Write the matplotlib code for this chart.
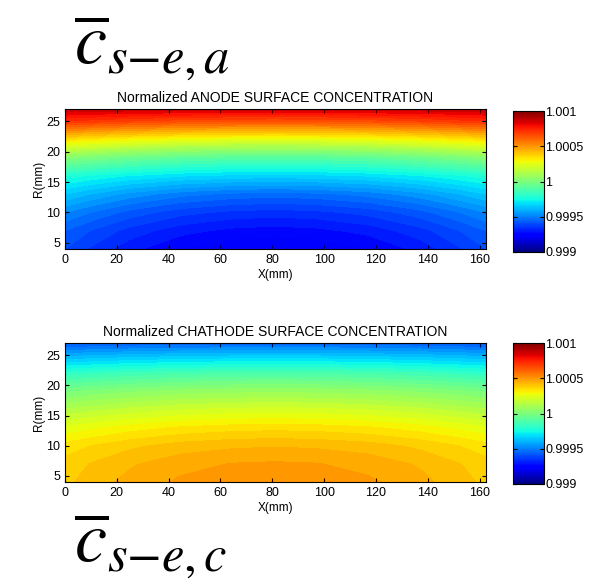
import numpy as np
import matplotlib
matplotlib.use('Agg')
import matplotlib.pyplot as plt
from matplotlib.cm import ScalarMappable
from matplotlib.colors import Normalize
from matplotlib.ticker import FixedLocator, FuncFormatter

# grid (mm)
x_mm = [0, 10, 25, 45, 65, 81, 97, 117, 137, 152, 162.5]
r_mm = [4, 7, 10, 13, 16, 19, 22, 25, 27]

# normalized anode surface concentration, one row per r_mm
anode = [
    [0.999400, 0.999354, 0.999294, 0.999238, 0.999208, 0.999200, 0.999208, 0.999238, 0.999294, 0.999354, 0.999400],
    [0.999440, 0.999398, 0.999344, 0.999294, 0.999268, 0.999260, 0.999268, 0.999294, 0.999344, 0.999398, 0.999440],
    [0.999520, 0.999478, 0.999424, 0.999374, 0.999348, 0.999340, 0.999348, 0.999374, 0.999424, 0.999478, 0.999520],
    [0.999640, 0.999598, 0.999544, 0.999494, 0.999468, 0.999460, 0.999468, 0.999494, 0.999544, 0.999598, 0.999640],
    [0.999780, 0.999752, 0.999716, 0.999682, 0.999664, 0.999660, 0.999664, 0.999682, 0.999716, 0.999752, 0.999780],
    [1.000020, 0.999992, 0.999956, 0.999922, 0.999904, 0.999900, 0.999904, 0.999922, 0.999956, 0.999992, 1.000020],
    [1.000340, 1.000318, 1.000288, 1.000260, 1.000244, 1.000240, 1.000244, 1.000260, 1.000288, 1.000318, 1.000340],
    [1.000720, 1.000702, 1.000678, 1.000656, 1.000644, 1.000640, 1.000644, 1.000656, 1.000678, 1.000702, 1.000720],
    [1.000880, 1.000876, 1.000870, 1.000864, 1.000860, 1.000860, 1.000860, 1.000864, 1.000870, 1.000876, 1.000880],
]

# normalized cathode surface concentration
cathode = [
    [1.000390, 1.000418, 1.000454, 1.000488, 1.000506, 1.000510, 1.000506, 1.000488, 1.000454, 1.000418, 1.000390],
    [1.000376, 1.000402, 1.000434, 1.000466, 1.000482, 1.000486, 1.000482, 1.000466, 1.000434, 1.000402, 1.000376],
    [1.000336, 1.000360, 1.000390, 1.000418, 1.000432, 1.000436, 1.000432, 1.000418, 1.000390, 1.000360, 1.000336],
    [1.000244, 1.000268, 1.000298, 1.000326, 1.000340, 1.000344, 1.000340, 1.000326, 1.000298, 1.000268, 1.000244],
    [1.000124, 1.000144, 1.000172, 1.000196, 1.000210, 1.000214, 1.000210, 1.000196, 1.000172, 1.000144, 1.000124],
    [0.999990, 1.000008, 1.000032, 1.000054, 1.000066, 1.000070, 1.000066, 1.000054, 1.000032, 1.000008, 0.999990],
    [0.999810, 0.999826, 0.999848, 0.999866, 0.999878, 0.999880, 0.999878, 0.999866, 0.999848, 0.999826, 0.999810],
    [0.999580, 0.999592, 0.999606, 0.999620, 0.999628, 0.999630, 0.999628, 0.999620, 0.999606, 0.999592, 0.999580],
    [0.999420, 0.999426, 0.999436, 0.999444, 0.999448, 0.999450, 0.999448, 0.999444, 0.999436, 0.999426, 0.999420],
]

cb_ticks = [0.999, 0.9995, 1.0, 1.0005, 1.001]

plt.rcParams['font.family'] = ['Liberation Sans', 'DejaVu Sans']
plt.rcParams['mathtext.fontset'] = 'stix'

fig = plt.figure(figsize=(5.93, 5.87), dpi=100)
levels = np.linspace(0.999, 1.001, 51)


def panel(rect, cbrect, data, title):
    # separate norm per panel, otherwise colorbars reset each other's ticks
    norm = Normalize(vmin=0.999, vmax=1.001)
    ax = fig.add_axes(rect)
    ax.contourf(x_mm, r_mm, np.array(data), levels=levels, cmap='jet', norm=norm)
    ax.set_xlim(0, 162.5)
    ax.set_ylim(4, 27)
    ax.set_xticks(range(0, 161, 20))
    ax.set_yticks([5, 10, 15, 20, 25])
    ax.tick_params(direction='in', top=True, right=True, length=3, labelsize=9, width=0.8)
    ax.set_xlabel('X(mm)', fontsize=8.5, labelpad=2)
    ax.set_ylabel('R(mm)', fontsize=8.5, labelpad=1)
    ax.set_title(title, fontsize=10, pad=5)
    cax = fig.add_axes(cbrect)
    cb = fig.colorbar(ScalarMappable(norm=Normalize(vmin=0.999, vmax=1.001), cmap='jet'), cax=cax)
    cax.yaxis.set_major_locator(FixedLocator(cb_ticks))
    cax.yaxis.set_major_formatter(FuncFormatter(lambda v, p: '%g' % round(v, 6)))
    cax.tick_params(direction='in', left=True, right=True, length=3, labelsize=9, pad=1)
    cb.outline.set_linewidth(0.8)


panel([0.1096, 0.5758, 0.710, 0.2385], [0.865, 0.5707, 0.0523, 0.240],
      anode, 'Normalized ANODE SURFACE CONCENTRATION')
panel([0.1096, 0.1789, 0.710, 0.2368], [0.865, 0.1755, 0.0523, 0.240],
      cathode, 'Normalized CHATHODE SURFACE CONCENTRATION')

fig.text(0.125, 0.89, r'$\overline{c}_{s{-}e,a}$', fontsize=52)
fig.text(0.125, 0.043, r'$\overline{c}_{s{-}e,c}$', fontsize=52)

fig.savefig('out.png', dpi=100)
